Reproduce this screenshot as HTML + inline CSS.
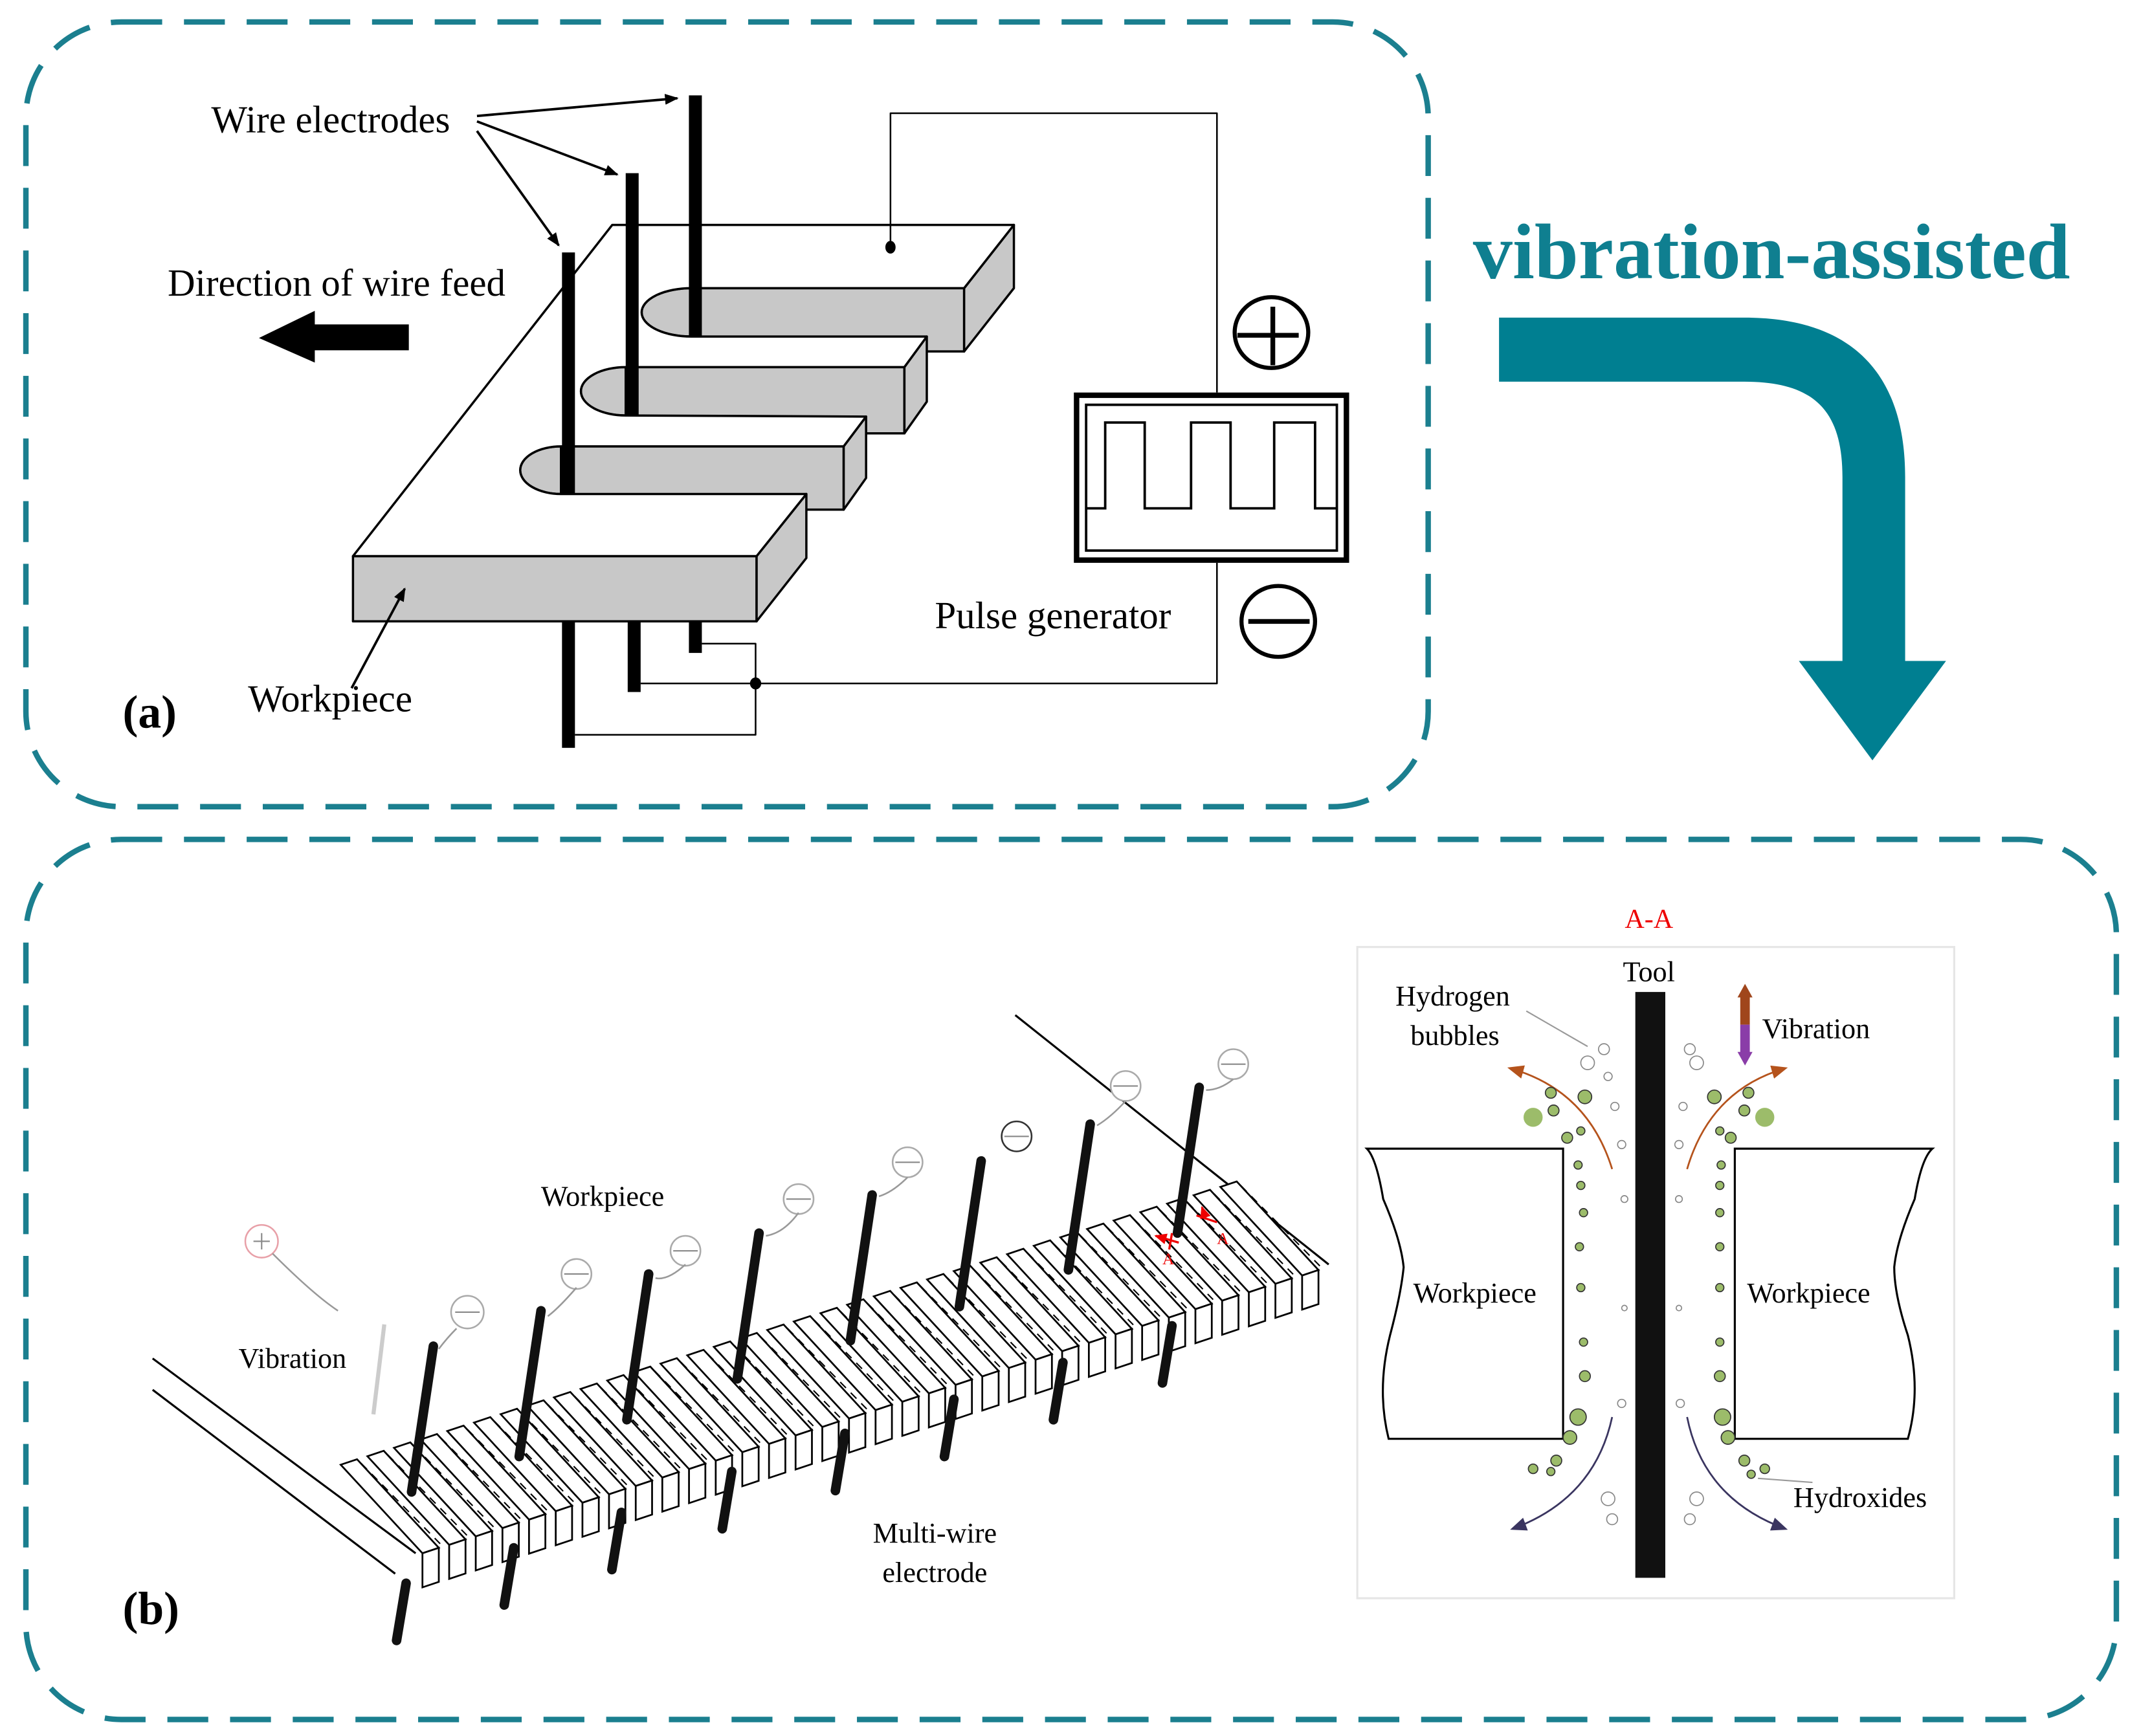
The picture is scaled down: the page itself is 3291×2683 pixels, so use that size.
<!DOCTYPE html>
<html><head><meta charset="utf-8"><style>
html,body{margin:0;padding:0;background:#fff;}
svg{display:block;}
text{font-family:"Liberation Serif",serif;}
.pa *{vector-effect:non-scaling-stroke;}
</style></head><body>
<svg width="3291" height="2683" viewBox="0 0 1563 1274" xmlns="http://www.w3.org/2000/svg">
<defs>
<marker id="ah" markerWidth="10" markerHeight="8" refX="9" refY="4" orient="auto" markerUnits="userSpaceOnUse"><path d="M0,0 L10,4 L0,8 Z" fill="#000"/></marker>
<marker id="ahb" markerWidth="12" markerHeight="10" refX="10" refY="5" orient="auto" markerUnits="userSpaceOnUse"><path d="M0,0 L12,5 L0,10 Z" fill="#b5531c"/></marker>
<marker id="ahd" markerWidth="12" markerHeight="10" refX="10" refY="5" orient="auto" markerUnits="userSpaceOnUse"><path d="M0,0 L12,5 L0,10 Z" fill="#3a3560"/></marker>
<marker id="ahr" markerWidth="9" markerHeight="8" refX="8" refY="4" orient="auto" markerUnits="userSpaceOnUse"><path d="M0,0 L9,4 L0,8 Z" fill="#e00"/></marker>
<g id="fin">
<path d="M0,0 L12,-4 L72,61 L60,65 Z" fill="#fff" stroke="#000" stroke-width="1.3"/>
<path d="M60,65 L72,61 L72,86 L60,90 Z" fill="#fff" stroke="#000" stroke-width="1.3"/>
<path d="M15,-1 L73,58" stroke="#000" stroke-width="1" stroke-dasharray="6,5"/>
</g>
</defs>

<!-- Panel frames -->
<rect x="19" y="16" width="1029" height="576" rx="70" fill="none" stroke="#1b7f8f" stroke-width="4" stroke-dasharray="30,16"/>
<rect x="19" y="616" width="1534" height="646" rx="70" fill="none" stroke="#1b7f8f" stroke-width="4" stroke-dasharray="30,16"/>

<!-- vibration-assisted -->
<text x="1300" y="204" text-anchor="middle" font-size="58" font-weight="bold" fill="#0f7f90">vibration-assisted</text>
<path d="M1100,233 L1280,233 C1360,233 1398,275 1398,350 L1398,485 L1428,485 L1374,558 L1320,485 L1352,485 L1352,350 C1352,300 1330,280 1280,280 L1100,280 Z" fill="#007f91"/>

<!-- Panel (a) -->
<g class="pa" transform="translate(238.2,143.1) scale(0.3652,0.2732)" stroke="#000" stroke-width="3.5" stroke-linejoin="round">
  <path d="M737,250 L1285,250 L1285,420 L737,420 Z" fill="#c8c8c8"/>
  <path d="M1285,250 L1385,80 L1385,250 L1285,420 Z" fill="#c8c8c8"/>
  <path d="M605,462 L1165,462 L1165,640 L605,640 Z" fill="#c8c8c8"/>
  <path d="M1165,462 L1210,380 L1210,555 L1165,640 Z" fill="#c8c8c8"/>
  <path d="M475,675 L1043,675 L1043,845 L475,845 Z" fill="#c8c8c8"/>
  <path d="M1043,675 L1088,595 L1088,760 L1043,845 Z" fill="#c8c8c8"/>
  <path d="M57,970 L868,970 L868,1145 L57,1145 Z" fill="#c8c8c8"/>
  <path d="M868,970 L968,803 L968,975 L868,1145 Z" fill="#c8c8c8"/>
  <path d="M737,250 A100,65 0 0 0 737,380 Z" fill="#c8c8c8"/>
  <path d="M605,462 A90,65 0 0 0 605,592 Z" fill="#c8c8c8"/>
  <path d="M475,675 A82,64 0 0 0 475,803 Z" fill="#c8c8c8"/>
  <path d="M57,970 L578,80 L1385,80 L1285,250 L737,250 A100,65 0 0 0 737,380 L1210,380 L1165,462 L605,462 A90,65 0 0 0 605,592 L1088,595 L1043,675 L475,675 A82,64 0 0 0 475,803 L968,803 L868,970 Z" fill="#fff"/>
  <rect x="732" y="-268" width="26" height="648" fill="#000" stroke="none"/>
  <rect x="605" y="-59" width="26" height="651" fill="#000" stroke="none"/>
  <rect x="477" y="154" width="26" height="651" fill="#000" stroke="none"/>
  <rect x="732" y="1145" width="26" height="85" fill="#000" stroke="none"/>
  <rect x="609" y="1145" width="26" height="190" fill="#000" stroke="none"/>
  <rect x="477" y="1145" width="26" height="340" fill="#000" stroke="none"/>
  <g fill="none" stroke-width="2.5">
   <path d="M758,1205 L866,1205 L866,1450 L503,1450"/>
   <path d="M635,1312 L1793,1312 L1793,988"/>
   <path d="M1137,140 L1137,-220 L1793,-220 L1793,530"/>
  </g>
  <ellipse cx="1137" cy="140" rx="8" ry="14" fill="#000"/>
  <ellipse cx="866" cy="1312" rx="9" ry="13" fill="#000"/>
</g>
<!-- pulse generator -->
<rect x="790" y="290" width="198" height="121" fill="#fff" stroke="#000" stroke-width="4"/>
<rect x="797" y="297" width="184" height="107" fill="none" stroke="#000" stroke-width="1.8"/>
<path d="M797,373 L811,373 L811,310 L840,310 L840,373 L874,373 L874,310 L903,310 L903,373 L935,373 L935,310 L965,310 L965,373 L981,373" fill="none" stroke="#000" stroke-width="1.8"/>
<ellipse cx="933" cy="244" rx="27" ry="26" fill="none" stroke="#000" stroke-width="3"/>
<path d="M908,246 L953,246 M934,225 L934,268" stroke="#000" stroke-width="3.5"/>
<ellipse cx="938" cy="456" rx="27" ry="26" fill="none" stroke="#000" stroke-width="3"/>
<path d="M916,456 L961,456" stroke="#000" stroke-width="3.5"/>

<text x="155" y="97" font-size="28">Wire electrodes</text>
<g stroke="#000" stroke-width="1.8" marker-end="url(#ah)">
<line x1="350" y1="85" x2="497" y2="72"/>
<line x1="350" y1="89" x2="453" y2="128"/>
<line x1="350" y1="96" x2="410" y2="180"/>
<line x1="258" y1="505" x2="297" y2="432"/>
</g>
<text x="123" y="217" font-size="28">Direction of wire feed</text>
<path d="M300,238 L231,238 L231,228 L190,248 L231,266 L231,257 L300,257 Z" fill="#000"/>
<text x="182" y="522" font-size="28">Workpiece</text>
<text x="90" y="534" font-size="34" font-weight="bold">(a)</text>
<text x="686" y="461" font-size="28">Pulse generator</text>

<!-- Panel (b) left -->
<g stroke="#000" stroke-width="1.5" fill="none">
<line x1="112" y1="997" x2="305" y2="1140"/>
<line x1="112" y1="1020" x2="290" y2="1155"/>
<line x1="745" y1="745" x2="975" y2="928"/>
</g>
<g>
<use href="#fin" x="250" y="1075"/><use href="#fin" x="269.6" y="1068.8"/><use href="#fin" x="289.1" y="1062.6"/><use href="#fin" x="308.7" y="1056.5"/><use href="#fin" x="328.2" y="1050.3"/><use href="#fin" x="347.8" y="1044.1"/><use href="#fin" x="367.4" y="1037.9"/><use href="#fin" x="386.9" y="1031.7"/><use href="#fin" x="406.5" y="1025.6"/><use href="#fin" x="426" y="1019.4"/><use href="#fin" x="445.6" y="1013.2"/><use href="#fin" x="465.2" y="1007"/><use href="#fin" x="484.7" y="1000.8"/><use href="#fin" x="504.3" y="994.7"/><use href="#fin" x="523.8" y="988.5"/><use href="#fin" x="543.4" y="982.3"/><use href="#fin" x="563" y="976.1"/><use href="#fin" x="582.5" y="969.9"/><use href="#fin" x="602.1" y="963.8"/><use href="#fin" x="621.6" y="957.6"/><use href="#fin" x="641.2" y="951.4"/><use href="#fin" x="660.8" y="945.2"/><use href="#fin" x="680.3" y="939"/><use href="#fin" x="699.9" y="932.9"/><use href="#fin" x="719.4" y="926.7"/><use href="#fin" x="739" y="920.5"/><use href="#fin" x="758.6" y="914.3"/><use href="#fin" x="778.1" y="908.1"/><use href="#fin" x="797.7" y="902"/><use href="#fin" x="817.2" y="895.8"/><use href="#fin" x="836.8" y="889.6"/><use href="#fin" x="856.4" y="883.4"/><use href="#fin" x="875.9" y="877.2"/><use href="#fin" x="895.5" y="871.1"/>
</g>
<g stroke="#111" stroke-width="7" stroke-linecap="round">
<line x1="318" y1="988" x2="302" y2="1095"/><line x1="298" y1="1162" x2="291" y2="1204"/>
<line x1="397" y1="962" x2="381" y2="1069"/><line x1="377" y1="1136" x2="370" y2="1178"/>
<line x1="476" y1="935" x2="460" y2="1042"/><line x1="456" y1="1110" x2="449" y2="1152"/>
<line x1="557" y1="905" x2="541" y2="1012"/><line x1="537" y1="1080" x2="530" y2="1122"/>
<line x1="640" y1="877" x2="624" y2="984"/><line x1="620" y1="1052" x2="613" y2="1094"/>
<line x1="720" y1="852" x2="704" y2="959"/><line x1="700" y1="1027" x2="693" y2="1069"/>
<line x1="800" y1="825" x2="784" y2="932"/><line x1="780" y1="1000" x2="773" y2="1042"/>
<line x1="880" y1="798" x2="864" y2="905"/><line x1="860" y1="973" x2="853" y2="1015"/>
</g>
<g fill="#fff" stroke="#aaa" stroke-width="1.2">
<circle cx="343" cy="963" r="12"/><circle cx="423" cy="935" r="11"/><circle cx="503" cy="918" r="11"/><circle cx="586" cy="880" r="11"/><circle cx="666" cy="853" r="11"/><circle cx="746" cy="834" r="11" stroke="#333"/><circle cx="826" cy="797" r="11"/><circle cx="905" cy="781" r="11"/>
<circle cx="192" cy="911" r="12" stroke="#e8a0a8"/>
</g>
<g stroke="#999" stroke-width="1.2" fill="none">
<path d="M335,975 Q328,982 322,990"/>
<path d="M423,945 Q410,960 402,966"/>
<path d="M503,928 Q490,940 481,938"/>
<path d="M586,890 Q575,905 562,907"/>
<path d="M666,864 Q655,875 645,878"/>
<path d="M826,808 Q815,820 805,826"/>
<path d="M905,792 Q895,800 885,800"/>
<path d="M200,920 Q230,950 248,962"/>
<path d="M282,972 L274,1038" stroke="#ccc" stroke-width="3"/>
</g>
<g stroke="#888" stroke-width="1"><path d="M334,963 h18 M414,935 h18 M494,918 h18 M577,880 h18 M657,853 h18 M737,834 h18 M817,797 h18 M896,781 h18 M186,911 h12 M192,905 v12"/></g>
<g stroke="#e00" stroke-width="1.6" fill="none">
<path d="M865,912 L848,907" marker-end="url(#ahr)"/><path d="M860,905 L858,917"/>
<path d="M885,895 L882,886" marker-end="url(#ahr)"/><path d="M878,892 L893,897"/>
</g>
<text x="853" y="928" font-size="12" fill="#e00">A</text><text x="893" y="913" font-size="12" fill="#e00">A</text>
<text x="397" y="885" font-size="21">Workpiece</text>
<text x="175" y="1004" font-size="21">Vibration</text>
<text x="686" y="1132" font-size="21" text-anchor="middle">Multi-wire</text>
<text x="686" y="1161" font-size="21" text-anchor="middle">electrode</text>
<text x="90" y="1192" font-size="34" font-weight="bold">(b)</text>

<!-- Panel (b) right inset -->
<rect x="996" y="695" width="438" height="478" fill="#fff" stroke="#e6e6e6" stroke-width="1.5"/>
<text x="1210" y="681" font-size="20" fill="#e00" text-anchor="middle">A-A</text>
<text x="1210" y="720" font-size="21" text-anchor="middle">Tool</text>
<rect x="1200" y="728" width="22" height="430" fill="#111"/>
<path d="M1003,843 L1147,843 L1147,1056 L1019,1056 Q1010,1020 1020,980 Q1028,950 1030,930 Q1028,910 1015,880 Q1010,850 1003,843 Z" fill="#fff" stroke="#000" stroke-width="1.5"/>
<path d="M1418,843 L1273,843 L1273,1056 L1400,1056 Q1410,1020 1400,980 Q1390,950 1390,930 Q1392,910 1405,880 Q1410,850 1418,843 Z" fill="#fff" stroke="#000" stroke-width="1.5"/>
<text x="1037" y="956" font-size="21">Workpiece</text>
<text x="1282" y="956" font-size="21">Workpiece</text>
<text x="1024" y="738" font-size="21">Hydrogen</text>
<text x="1035" y="767" font-size="21">bubbles</text>
<text x="1293" y="762" font-size="21">Vibration</text>
<text x="1316" y="1106" font-size="21">Hydroxides</text>
<rect x="1277" y="730" width="7" height="22" fill="#a0461c"/>
<rect x="1277" y="752" width="7" height="22" fill="#8a3da8"/>
<path d="M1275,732 L1280.5,722 L1286,732 Z" fill="#a0461c"/><path d="M1275,772 L1280.5,782 L1286,772 Z" fill="#8a3da8"/>
<line x1="1120" y1="742" x2="1165" y2="768" stroke="#999" stroke-width="1"/>
<line x1="1290" y1="1085" x2="1330" y2="1088" stroke="#999" stroke-width="1"/>
<g fill="none" stroke-width="1.3">
<path d="M1183,858 Q1165,800 1108,784" stroke="#b5531c" marker-end="url(#ahb)"/>
<path d="M1238,858 Q1255,800 1310,784" stroke="#b5531c" marker-end="url(#ahb)"/>
<path d="M1183,1040 Q1170,1100 1110,1122" stroke="#3a3560" marker-end="url(#ahd)"/>
<path d="M1238,1040 Q1250,1100 1310,1122" stroke="#3a3560" marker-end="url(#ahd)"/>
</g>
<g fill="#9cbc6a" stroke="#333" stroke-width="0.8">
<circle cx="1125" cy="820" r="7" stroke="none"/><circle cx="1140" cy="815" r="4"/><circle cx="1138" cy="802" r="4"/><circle cx="1150" cy="835" r="4"/><circle cx="1160" cy="830" r="3"/><circle cx="1163" cy="805" r="5"/><circle cx="1158" cy="855" r="3"/><circle cx="1160" cy="870" r="3"/><circle cx="1162" cy="890" r="3"/><circle cx="1159" cy="915" r="3"/><circle cx="1160" cy="945" r="3"/><circle cx="1162" cy="985" r="3"/><circle cx="1163" cy="1010" r="4"/><circle cx="1158" cy="1040" r="6"/><circle cx="1152" cy="1055" r="5"/><circle cx="1142" cy="1072" r="4"/><circle cx="1125" cy="1078" r="3.5"/><circle cx="1138" cy="1080" r="3"/>
<circle cx="1295" cy="820" r="7" stroke="none"/><circle cx="1280" cy="815" r="4"/><circle cx="1283" cy="802" r="4"/><circle cx="1270" cy="835" r="4"/><circle cx="1262" cy="830" r="3"/><circle cx="1258" cy="805" r="5"/><circle cx="1263" cy="855" r="3"/><circle cx="1262" cy="870" r="3"/><circle cx="1262" cy="890" r="3"/><circle cx="1262" cy="915" r="3"/><circle cx="1262" cy="945" r="3"/><circle cx="1262" cy="985" r="3"/><circle cx="1262" cy="1010" r="4"/><circle cx="1264" cy="1040" r="6"/><circle cx="1268" cy="1055" r="5"/><circle cx="1280" cy="1072" r="4"/><circle cx="1295" cy="1078" r="3.5"/><circle cx="1285" cy="1082" r="3"/>
</g>
<g fill="none" stroke="#888" stroke-width="0.8">
<circle cx="1165" cy="780" r="5"/><circle cx="1177" cy="770" r="4"/><circle cx="1180" cy="790" r="3"/><circle cx="1185" cy="812" r="3"/><circle cx="1190" cy="840" r="3"/><circle cx="1192" cy="880" r="2.5"/><circle cx="1192" cy="960" r="2"/><circle cx="1190" cy="1030" r="3"/><circle cx="1180" cy="1100" r="5"/><circle cx="1183" cy="1115" r="4"/>
<circle cx="1245" cy="780" r="5"/><circle cx="1240" cy="770" r="4"/><circle cx="1235" cy="812" r="3"/><circle cx="1232" cy="840" r="3"/><circle cx="1232" cy="880" r="2.5"/><circle cx="1232" cy="960" r="2"/><circle cx="1233" cy="1030" r="3"/><circle cx="1245" cy="1100" r="5"/><circle cx="1240" cy="1115" r="4"/>
</g>
</svg>
</body></html>
